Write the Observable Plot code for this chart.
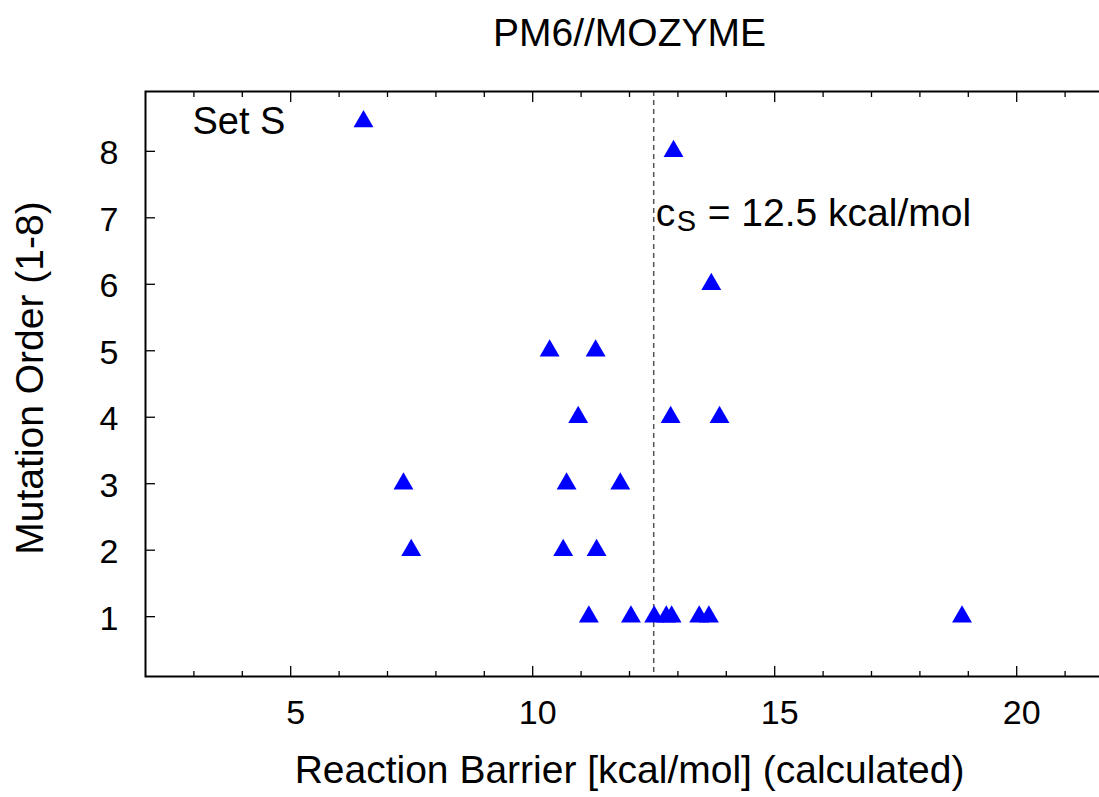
<!DOCTYPE html>
<html>
<head>
<meta charset="utf-8">
<script src="https://cdn.jsdelivr.net/npm/d3@7"></script>
<script src="https://cdn.jsdelivr.net/npm/@observablehq/plot@0.6"></script>
<style>
  html, body { margin: 0; padding: 0; overflow: hidden; background: white; }
  svg { max-width: none !important; display: block; }
</style>
</head>
<body>
<div id="chart"></div>
<script>
// Reaction barrier (kcal/mol, calculated) and mutation order for each variant
const barrier = [11.16, 12.03, 12.51, 12.76, 12.87, 13.44, 13.64, 18.87,
                 7.49, 10.63, 11.32,
                 7.33, 10.70, 11.81,
                 10.94, 12.85, 13.86,
                 10.35, 11.30,
                 13.69,
                 12.91];
const order = [1, 1, 1, 1, 1, 1, 1, 1,
               2, 2, 2,
               3, 3, 3,
               4, 4, 4,
               5, 5,
               6,
               8];
const cutoff = [12.5];
const xDomain = [2, 22];
const yDomain = [0.1, 8.9];
const xMajorTicks = [5, 10, 15, 20];
const xMinorTicks = [3, 4, 6, 7, 8, 9, 11, 12, 13, 14, 16, 17, 18, 19, 21];
const yTicks = [1, 2, 3, 4, 5, 6, 7, 8];
const titleText = "PM6//MOZYME";
const xLabel = "Reaction Barrier [kcal/mol] (calculated)";
const yLabel = "Mutation Order (1-8)";
const legendLabel = "Set S";

const points = barrier.map((b, i) => ({barrier: b, order: order[i]}));
const font = "'Liberation Sans', Arial, Helvetica, sans-serif";
const noText = () => "";
const plain = d => String(d);

const chart = Plot.plot({
  width: 1113,
  height: 797,
  marginLeft: 145,
  marginRight: 0,
  marginTop: 91,
  marginBottom: 121,
  x: {domain: xDomain},
  y: {domain: yDomain},
  style: {fontFamily: font, color: "black", background: "white"},
  marks: [
    // cutoff line
    Plot.ruleX(cutoff, {stroke: "#555", strokeWidth: 1.5, strokeDasharray: "5,4"}),
    // ticks (inward)
    Plot.axisX(xMajorTicks, {anchor: "bottom", tickSize: -10, tickFormat: noText, label: null, strokeWidth: 1.3}),
    Plot.axisX(xMinorTicks, {anchor: "bottom", tickSize: -5, tickFormat: noText, label: null, strokeWidth: 1.3}),
    Plot.axisX(xMajorTicks, {anchor: "top", tickSize: -10, tickFormat: noText, label: null, strokeWidth: 1.3}),
    Plot.axisX(xMinorTicks, {anchor: "top", tickSize: -5, tickFormat: noText, label: null, strokeWidth: 1.3}),
    Plot.axisY(yTicks, {anchor: "left", tickSize: -10, tickFormat: noText, label: null, strokeWidth: 1.3}),
    // tick labels
    Plot.axisX(xMajorTicks, {anchor: "bottom", tickSize: 0, tickPadding: 23, fontSize: 34, dx: 5, tickFormat: plain, label: null}),
    Plot.axisY(yTicks, {anchor: "left", tickSize: 0, tickPadding: 27, fontSize: 34, dy: 2, tickFormat: plain, label: null}),
    // frame
    Plot.frame({stroke: "black", strokeWidth: 2}),
    // data
    Plot.dot(points, {x: "barrier", y: "order", symbol: "triangle", r: 7.4, fill: "#0000ff", stroke: "none"}),
    // cutoff annotation
    Plot.text(cutoff, {x: d => d, y: () => 7, text: () => "c", textAnchor: "start", lineAnchor: "bottom", dx: 2, dy: 8, fontSize: 39}),
    Plot.text(cutoff, {x: d => d, y: () => 7, text: () => "S", textAnchor: "start", lineAnchor: "bottom", dx: 23, dy: 13, fontSize: 29}),
    Plot.text(cutoff, {x: d => d, y: () => 7, text: d => `= ${d} kcal/mol`, textAnchor: "start", lineAnchor: "bottom", dx: 54, dy: 8, fontSize: 39}),
    // legend
    Plot.text([legendLabel], {frameAnchor: "top-left", text: d => d, textAnchor: "start", lineAnchor: "bottom", dx: 47, dy: 42, fontSize: 38}),
    Plot.dot([legendLabel], {frameAnchor: "top-left", dx: 218, dy: 30, symbol: "triangle", r: 7.4, fill: "#0000ff", stroke: "none"}),
    // title and axis labels
    Plot.text([titleText], {frameAnchor: "top", text: d => d, lineAnchor: "bottom", dy: -46, fontSize: 39}),
    Plot.text([xLabel], {frameAnchor: "bottom", text: d => d, lineAnchor: "bottom", dy: 106, fontSize: 39}),
    Plot.text([yLabel], {frameAnchor: "left", text: d => d, rotate: -90, textAnchor: "middle", lineAnchor: "bottom", dx: -103, dy: -6, fontSize: 39})
  ]
});
document.getElementById("chart").appendChild(chart);
</script>
</body>
</html>
